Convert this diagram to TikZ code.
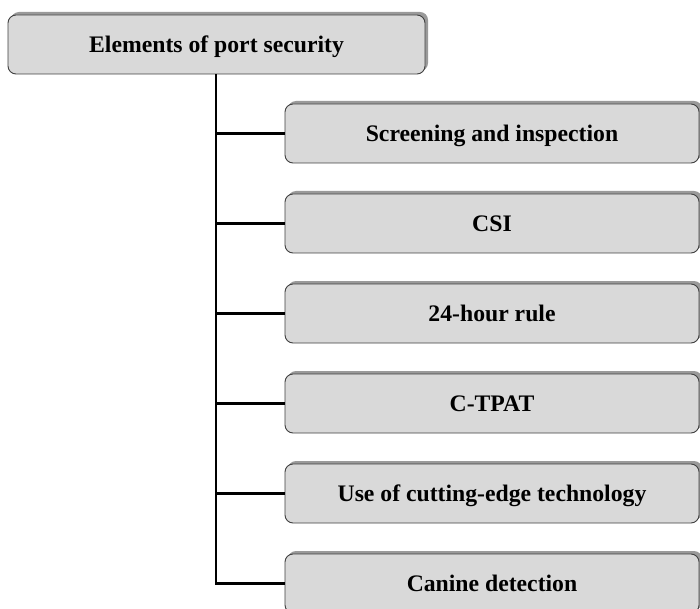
\documentclass[tikz,border=0pt]{standalone}
\usepackage{fontspec}
\setmainfont{Liberation Serif}
\usetikzlibrary{shadows}
\definecolor{boxfill}{HTML}{D9D9D9}
\definecolor{boxedge}{HTML}{404040}
\definecolor{boxshade}{HTML}{9A9A9A}
\tikzset{
  itembox/.style={draw=boxedge, line width=0.9pt, fill=boxfill, rounded corners=8pt,
    inner sep=0pt, font=\fontsize{23.7}{26}\selectfont\bfseries,
    text height=15.7pt, text depth=0pt,
    copy shadow={shadow xshift=3pt, shadow yshift=3pt, fill=boxshade, draw=none}},
  link/.style={line width=2.6pt, black}
}
\begin{document}
\begin{tikzpicture}[x=1pt, y=-1pt]
  \useasboundingbox (0,0) rectangle (700,609);
  \clip (0,0) rectangle (700,609);
  \fill[white] (0,0) rectangle (700,609);
  % root box
  \node[itembox, minimum width=417pt, minimum height=59pt] (top) at (216.5,44.5) {Elements of port security};
  % branch boxes, spaced 90 apart
  \foreach \i/\txt in {1/Screening and inspection, 2/CSI, 3/24-hour rule, 4/C-TPAT,
      5/Use of cutting-edge technology, 6/Canine detection} {
    \node[itembox, minimum width=414pt, minimum height=59pt] (s\i) at (492,{43.5+90*\i}) {\txt};
  }
  % trunk and branches
  \draw[link] ([xshift=-0.5pt]top.south) -- ([xshift=-0.5pt]top.south |- s6.west) -- (s6.west);
  \foreach \i in {1,...,5} {
    \draw[link] ([xshift=-0.5pt]top.south |- s\i.west) -- (s\i.west);
  }
\end{tikzpicture}
\end{document}
